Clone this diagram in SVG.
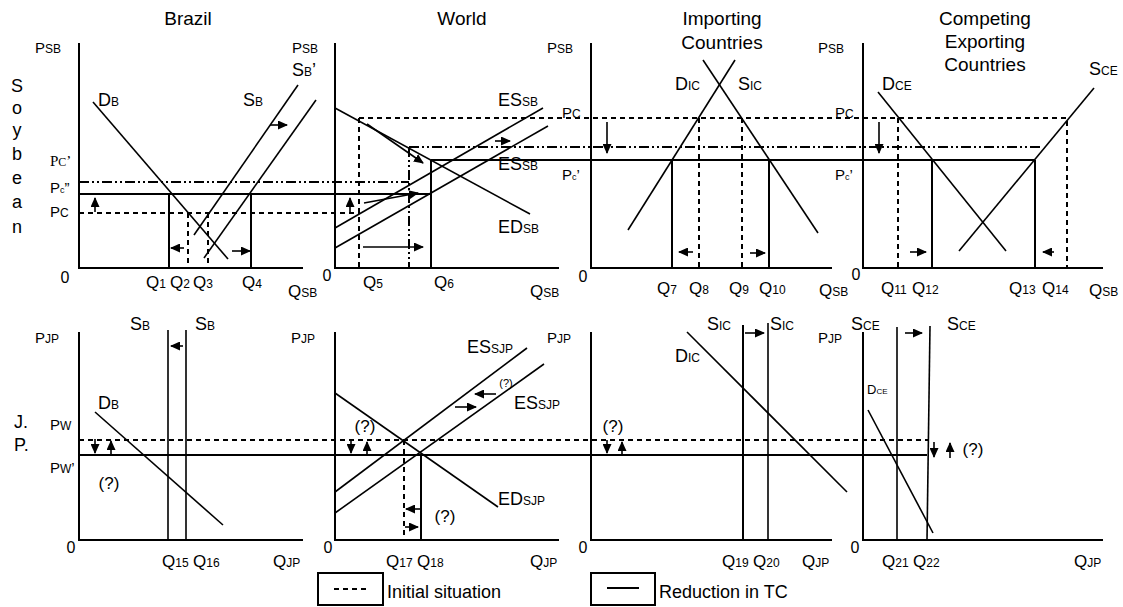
<svg xmlns="http://www.w3.org/2000/svg" width="1123" height="607" viewBox="0 0 1123 607">
<style>
text{font-family:"Liberation Sans",Arial,sans-serif;fill:#000}
.ti{font-size:19px}
.lb{font-size:18px}
.s{font-size:12px}
.xs{font-size:9px}
.p{font-size:15px}
.q{font-size:17px}
.z{font-size:16px;text-anchor:middle}
.qm{font-size:17px;text-anchor:middle}
.sf{font-family:"Liberation Serif","Times New Roman",serif}
.ax{stroke:#000;stroke-width:2;fill:none}
.cv{stroke:#000;stroke-width:1.6;fill:none}
.rl{stroke:#000;stroke-width:1.2;fill:none;shape-rendering:crispEdges}
.da{stroke-dasharray:5,4}
.dd{stroke-dasharray:10,3,2,3,2,3}
.ar{stroke:#000;stroke-width:1.6;fill:none;marker-end:url(#ah)}
</style>
<defs>
<marker id="ah" markerUnits="userSpaceOnUse" markerWidth="10" markerHeight="9" refX="9" refY="4.5" orient="auto">
<path d="M0,0 L10,4.5 L0,9 z" fill="#000"/>
</marker>
</defs>
<rect width="1123" height="607" fill="#fff"/>

<g id="side-labels">
<text class="lb" x="17" y="92" text-anchor="middle">S</text>
<text class="lb" x="17" y="114" text-anchor="middle">o</text>
<text class="lb" x="17" y="136" text-anchor="middle">y</text>
<text class="lb" x="17" y="160" text-anchor="middle">b</text>
<text class="lb" x="17" y="184" text-anchor="middle">e</text>
<text class="lb" x="17" y="208" text-anchor="middle">a</text>
<text class="lb" x="17" y="233" text-anchor="middle">n</text>
<text class="lb" x="14" y="428">J.</text>
<text class="lb" x="14" y="451">P.</text>
</g>

<g id="titles">
<text class="ti" x="188" y="25" text-anchor="middle">Brazil</text>
<text class="ti" x="462" y="25" text-anchor="middle">World</text>
<text class="ti" x="722" y="25" text-anchor="middle">Importing</text>
<text class="ti" x="722" y="49" text-anchor="middle">Countries</text>
<text class="ti" x="985" y="25" text-anchor="middle">Competing</text>
<text class="ti" x="985" y="48" text-anchor="middle">Exporting</text>
<text class="ti" x="985" y="71" text-anchor="middle">Countries</text>
</g>

<g id="connectors">
<path class="rl dd" d="M79,182 H409"/>
<path class="rl dd" d="M409,147 V268"/>
<path class="rl dd" d="M409,147 H1043"/>
<path class="rl" d="M79,194 H431"/>
<path class="rl" d="M431,160 V268"/>
<path class="rl" d="M431,160 H1035"/>
<path class="rl da" d="M79,213 H359"/>
<path class="rl da" d="M359,118 V268"/>
<path class="rl da" d="M359,118 H1067 V268"/>
<path class="rl da" d="M79,440 H928"/>
<path class="rl" d="M79,455 H927"/>
</g>

<g id="brazil-soy">
<path class="ax" d="M79,43 V268 H303"/>
<path class="cv" d="M93,102 L228,259"/>
<path class="cv" d="M194,235 L298,85"/>
<path class="cv" d="M204,258 L316,100"/>
<path class="rl" d="M169,194 V268 M251,194 V268"/>
<path class="rl da" d="M188,213 V268 M208,213 V268"/>
<path class="ar" d="M95,212 V198"/>
<path class="ar" d="M270,125 H287"/>
<path class="ar" d="M184,248 H171"/>
<path class="ar" d="M232,251 H250"/>
<text class="p" x="35" y="53">P<tspan class="s">SB</tspan></text>
<text class="lb" x="98" y="106">D<tspan class="s">B</tspan></text>
<text class="lb" x="243" y="106">S<tspan class="s">B</tspan></text>
<text class="p sf" x="50" y="166">P<tspan class="s sf">C</tspan>’</text>
<text class="p" x="50" y="193">P<tspan class="xs">c</tspan>”</text>
<text class="p" x="50" y="217">P<tspan class="s">C</tspan></text>
<text class="z" x="65" y="283">0</text>
<text class="q" x="146" y="288">Q<tspan class="s">1</tspan></text>
<text class="q" x="170" y="288">Q<tspan class="s">2</tspan></text>
<text class="q" x="193" y="288">Q<tspan class="s">3</tspan></text>
<text class="q" x="242" y="288">Q<tspan class="s">4</tspan></text>
<text class="q" x="288" y="297">Q<tspan class="s">SB</tspan></text>
</g>

<g id="world-soy">
<path class="ax" d="M335,43 V268 H559"/>
<path class="cv" d="M335,108 L530,214"/>
<path class="cv" d="M335,228 L543,108"/>
<path class="cv" d="M335,248 L548,126"/>
<path class="ar" d="M367,124 L423,163"/>
<path class="ar" d="M495,141 H510"/>
<path class="ar" d="M350,212 V198"/>
<path class="ar" d="M364,203 L418,193"/>
<path class="ar" d="M363,247 H423"/>
<text class="p" x="292" y="53">P<tspan class="s">SB</tspan></text>
<text class="lb" x="292" y="76">S<tspan class="s">B</tspan>’</text>
<text class="lb" x="498" y="106">ES<tspan class="s">SB</tspan></text>
<text class="lb" x="498" y="170">ES<tspan class="s">SB</tspan></text>
<text class="lb" x="498" y="233">ED<tspan class="s">SB</tspan></text>
<text class="z" x="327" y="281">0</text>
<text class="q" x="363" y="288">Q<tspan class="s">5</tspan></text>
<text class="q" x="434" y="288">Q<tspan class="s">6</tspan></text>
<text class="q" x="530" y="297">Q<tspan class="s">SB</tspan></text>
</g>

<g id="importing-soy">
<path class="ax" d="M591,43 V268 H832"/>
<path class="cv" d="M628,230 L735,60"/>
<path class="cv" d="M703,60 L818,233"/>
<path class="rl" d="M672,160 V268 M769,160 V268"/>
<path class="rl da" d="M699,118 V268 M742,118 V268"/>
<path class="ar" d="M607,122 V153"/>
<path class="ar" d="M693,252 H679"/>
<path class="ar" d="M750,253 H765"/>
<text class="p" x="547" y="53">P<tspan class="s">SB</tspan></text>
<text class="lb" x="675" y="90">D<tspan class="s">IC</tspan></text>
<text class="lb" x="738" y="90">S<tspan class="s">IC</tspan></text>
<text class="p" x="562" y="118">P<tspan class="s">C</tspan></text>
<text class="p" x="562" y="180">P<tspan class="xs">c</tspan>’</text>
<text class="z" x="583" y="282">0</text>
<text class="q" x="657" y="294">Q<tspan class="s">7</tspan></text>
<text class="q" x="689" y="294">Q<tspan class="s">8</tspan></text>
<text class="q" x="729" y="294">Q<tspan class="s">9</tspan></text>
<text class="q" x="759" y="294">Q<tspan class="s">10</tspan></text>
<text class="q" x="819" y="296">Q<tspan class="s">SB</tspan></text>
</g>

<g id="competing-soy">
<path class="ax" d="M863,43 V268 H1103"/>
<path class="cv" d="M878,92 L1006,251"/>
<path class="cv" d="M959,251 L1094,88"/>
<path class="rl" d="M932,160 V268 M1035,160 V268"/>
<path class="rl da" d="M898,118 V268"/>
<path class="ar" d="M879,122 V153"/>
<path class="ar" d="M910,252 H926"/>
<path class="ar" d="M1054,252 H1043"/>
<text class="p" x="818" y="53">P<tspan class="s">SB</tspan></text>
<text class="lb" x="882" y="90">D<tspan class="s">CE</tspan></text>
<text class="lb" x="1089" y="75">S<tspan class="s">CE</tspan></text>
<text class="p" x="835" y="118">P<tspan class="s">C</tspan></text>
<text class="p" x="835" y="180">P<tspan class="xs">c</tspan>’</text>
<text class="z" x="856" y="280">0</text>
<text class="q" x="881" y="294">Q<tspan class="s">11</tspan></text>
<text class="q" x="912" y="294">Q<tspan class="s">12</tspan></text>
<text class="q" x="1009" y="294">Q<tspan class="s">13</tspan></text>
<text class="q" x="1042" y="294">Q<tspan class="s">14</tspan></text>
<text class="q" x="1089" y="296">Q<tspan class="s">SB</tspan></text>
</g>

<g id="brazil-jp">
<path class="ax" d="M79,332 V540 H303"/>
<path class="cv" d="M168,330 V540 M186,330 V540"/>
<path class="cv" d="M95,412 L223,525"/>
<path class="ar" d="M183,346 H171"/>
<path class="ar" d="M95,439 V453"/>
<path class="ar" d="M111,455 V441"/>
<text class="p" x="35" y="343">P<tspan class="s">JP</tspan></text>
<text class="lb" x="130" y="330">S<tspan class="s">B</tspan></text>
<text class="lb" x="195" y="330">S<tspan class="s">B</tspan></text>
<text class="lb" x="98" y="409">D<tspan class="s">B</tspan></text>
<text class="p" x="50" y="430">P<tspan class="s">W</tspan></text>
<text class="p" x="50" y="473">P<tspan class="s">W</tspan>’</text>
<text class="qm" x="109" y="489">(?)</text>
<text class="z" x="71" y="553">0</text>
<text class="q" x="162" y="567">Q<tspan class="s">15</tspan></text>
<text class="q" x="193" y="567">Q<tspan class="s">16</tspan></text>
<text class="q" x="273" y="567">Q<tspan class="s">JP</tspan></text>
</g>

<g id="world-jp">
<path class="ax" d="M335,332 V540 H559"/>
<path class="cv" d="M335,393 L498,507"/>
<path class="cv" d="M335,492 L527,348"/>
<path class="cv" d="M335,513 L544,364"/>
<path class="rl da" d="M404,440 V540"/>
<path class="rl" d="M421,455 V540"/>
<path class="ar" d="M496,394 H475"/>
<path class="ar" d="M455,407 H476"/>
<path class="ar" d="M351,440 V453"/>
<path class="ar" d="M367,455 V442"/>
<path class="ar" d="M421,509 H406"/>
<path class="ar" d="M405,527 H418"/>
<text class="p" x="291" y="343">P<tspan class="s">JP</tspan></text>
<text class="lb" x="467" y="353">ES<tspan class="s">SJP</tspan></text>
<text class="lb" x="514" y="409">ES<tspan class="s">SJP</tspan></text>
<text class="lb" x="498" y="505">ED<tspan class="s">SJP</tspan></text>
<text x="506" y="387" font-size="11" text-anchor="middle">(?)</text>
<text class="qm" x="365" y="432">(?)</text>
<text class="qm" x="445" y="522">(?)</text>
<text class="z" x="328" y="553">0</text>
<text class="q" x="386" y="567">Q<tspan class="s">17</tspan></text>
<text class="q" x="417" y="567">Q<tspan class="s">18</tspan></text>
<text class="q" x="530" y="567">Q<tspan class="s">JP</tspan></text>
</g>

<g id="importing-jp">
<path class="ax" d="M591,332 V540 H832"/>
<path class="cv" d="M687,332 L847,492"/>
<path class="ax" d="M743,325 V540"/>
<path class="cv" d="M768,323 V540"/>
<path class="ar" d="M745,333 H764"/>
<path class="ar" d="M607,440 V453"/>
<path class="ar" d="M622,455 V442"/>
<text class="p" x="547" y="343">P<tspan class="s">JP</tspan></text>
<text class="lb" x="707" y="330">S<tspan class="s">IC</tspan></text>
<text class="lb" x="770" y="330">S<tspan class="s">IC</tspan></text>
<text class="lb" x="675" y="362">D<tspan class="s">IC</tspan></text>
<text class="qm" x="613" y="432">(?)</text>
<text class="z" x="583" y="553">0</text>
<text class="q" x="722" y="567">Q<tspan class="s">19</tspan></text>
<text class="q" x="753" y="567">Q<tspan class="s">20</tspan></text>
<text class="q" x="802" y="567">Q<tspan class="s">JP</tspan></text>
</g>

<g id="competing-jp">
<path class="ax" d="M863,332 V540 H1103"/>
<path class="cv" d="M897,327 V540"/>
<path class="cv" d="M930,326 L927,540"/>
<path class="cv" d="M868,410 L933,533"/>
<path class="ar" d="M905,333 H922"/>
<path class="ar" d="M934,442 V457"/>
<path class="ar" d="M950,458 V443"/>
<text class="p" x="818" y="343">P<tspan class="s">JP</tspan></text>
<text class="lb" x="851" y="330">S<tspan class="s">CE</tspan></text>
<text class="lb" x="947" y="330">S<tspan class="s">CE</tspan></text>
<text x="867" y="394" font-size="13">D<tspan font-size="8">CE</tspan></text>
<text class="qm" x="973" y="455">(?)</text>
<text class="z" x="855" y="553">0</text>
<text class="q" x="882" y="567">Q<tspan class="s">21</tspan></text>
<text class="q" x="913" y="567">Q<tspan class="s">22</tspan></text>
<text class="q" x="1074" y="567">Q<tspan class="s">JP</tspan></text>
</g>

<g id="legend">
<rect x="318" y="573" width="65" height="32" fill="none" stroke="#000" stroke-width="2"/>
<path class="rl da" d="M334,589 H367"/>
<text x="387" y="598" font-size="18">Initial situation</text>
<rect x="591" y="573" width="64" height="32" fill="none" stroke="#000" stroke-width="2"/>
<path class="rl" d="M607,588 H639"/>
<text x="659" y="598" font-size="18">Reduction in TC</text>
</g>
</svg>
